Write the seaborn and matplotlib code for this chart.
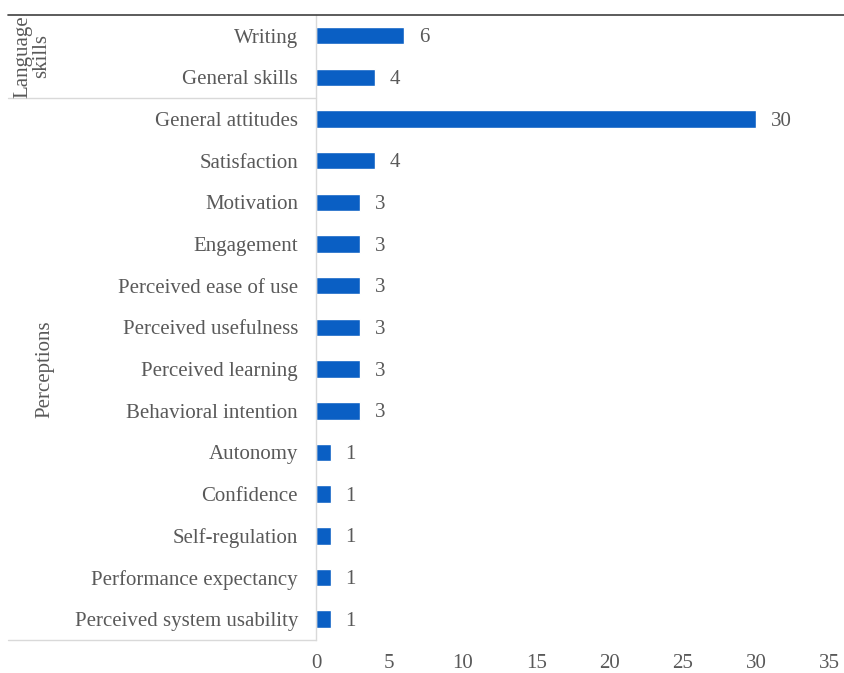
import numpy as np
import pandas as pd
import seaborn as sns
import matplotlib.pyplot as plt
from matplotlib.lines import Line2D

# ------------------ DATA ------------------
categories = [
    'Writing', 'General skills', 'General attitudes', 'Satisfaction', 'Motivation',
    'Engagement', 'Perceived ease of use', 'Perceived usefulness', 'Perceived learning',
    'Behavioral intention', 'Autonomy', 'Confidence', 'Self-regulation',
    'Performance expectancy', 'Perceived system usability',
]
counts = [6, 4, 30, 4, 3, 3, 3, 3, 3, 3, 1, 1, 1, 1, 1]
groups = ['Language\nskills'] * 2 + ['Perceptions'] * 13
x_ticks = [0, 5, 10, 15, 20, 25, 30, 35]

df = pd.DataFrame({'Category': categories, 'Count': counts, 'Group': groups})

# ------------------ STYLE ------------------
sns.set_style('white')
plt.rcParams['font.family'] = ['Liberation Serif', 'DejaVu Serif']
text_color = '#595959'
bar_color = '#0a5fc4'
fs = 15

# ------------------ PLOT ------------------
fig = plt.figure(figsize=(8.45, 6.73), dpi=100)
ax = fig.add_axes([0.374, 0.049, 0.608, 0.929])

sns.barplot(data=df, x='Count', y='Category', color=bar_color, width=0.42,
            saturation=1, ax=ax)

for i, v in enumerate(counts):
    ax.text(v + 1.0, i + 0.05, f'{v}', va='center', ha='left', fontsize=fs,
            color=text_color)

ax.set_xlim(0, 35)
ax.set_ylim(len(categories) - 0.5, -0.5)
ax.set_xticks(x_ticks)
ax.tick_params(axis='x', labelsize=fs, colors=text_color, length=0, pad=10)
ax.tick_params(axis='y', labelsize=fs, colors=text_color, length=0, pad=13)
ax.set_xlabel('')
ax.set_ylabel('')

for side in ['top', 'right', 'bottom']:
    ax.spines[side].set_visible(False)
ax.spines['left'].set_color('#d9d9d9')
ax.spines['left'].set_linewidth(1)

# ------------------ GROUP LABELS / SEPARATORS ------------------
trans = ax.get_yaxis_transform()
x_left = -0.6  # axes fraction for left edge of group area
line_kw = dict(transform=trans, clip_on=False, color='#d9d9d9', linewidth=1)
ax.add_line(Line2D([x_left, 0], [1.5, 1.5], **line_kw))
ax.add_line(Line2D([x_left, 0], [14.5, 14.5], **line_kw))

# dark top line across the figure
fig.add_artist(Line2D([0.01, 1.0], [0.978, 0.978], transform=fig.transFigure,
                      color='#404040', linewidth=1.2))

group_pos = df.groupby('Group', sort=False).apply(lambda g: np.mean(g.index))
label_x = {'Language\nskills': -0.553, 'Perceptions': -0.527}
for name, ypos in group_pos.items():
    ax.text(label_x[name], ypos, name, transform=trans, rotation=90,
            ha='center', va='center', fontsize=fs, color=text_color,
            linespacing=1.0)

fig.savefig('out.png', dpi=100)
plt.close(fig)
